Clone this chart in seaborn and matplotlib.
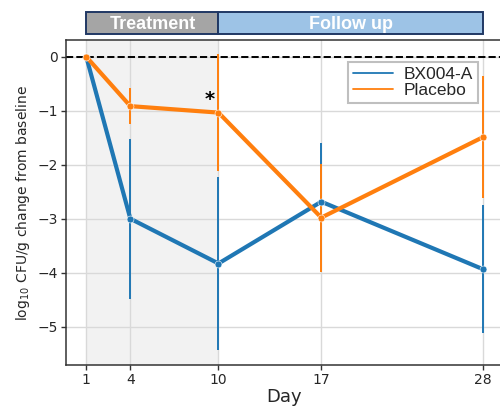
import matplotlib
matplotlib.use("Agg")
import matplotlib.pyplot as plt
import seaborn as sns
import pandas as pd
from matplotlib.patches import Rectangle
from matplotlib.lines import Line2D

days = [1, 4, 10, 17, 28]
bx_mean = [0.0, -3.00, -3.83, -2.685, -3.935]
bx_err = [0.0, 1.48, 1.61, 1.085, 1.185]
pl_mean = [0.0, -0.915, -1.035, -2.98, -1.49]
pl_err = [0.0, 0.33, 1.09, 1.00, 1.13]
series_names = ["BX004-A", "Placebo"]
colors = ["#1f77b4", "#ff7f0e"]
phase_labels = ["Treatment", "Follow up"]
phase_bounds = [(1, 10), (10, 28)]
phase_colors = ["#a5a5a5", "#9dc3e6"]

df = pd.DataFrame({
    "Day": days * 2,
    "value": bx_mean + pl_mean,
    "err": bx_err + pl_err,
    "group": [series_names[0]] * len(days) + [series_names[1]] * len(days),
})

sns.set_theme(style="whitegrid")
plt.rcParams["font.family"] = ["DejaVu Sans"]

fig = plt.figure(figsize=(5.0, 4.09), dpi=100)
ax = fig.add_axes([66 / 500, 44 / 409, 436 / 500, 325 / 409])

ax.axvspan(1, 10, color="#f2f2f2", zorder=0, lw=0)
ax.axhline(0, color="black", ls="--", lw=1.4, zorder=1.5)

for name, col in zip(series_names, colors):
    sub = df[df["group"] == name]
    ax.errorbar(sub["Day"], sub["value"], yerr=sub["err"], fmt="none",
                ecolor=col, elinewidth=1.4, capsize=0, zorder=2)

sns.lineplot(data=df, x="Day", y="value", hue="group", palette=colors,
             marker="o", markersize=5, markeredgecolor="white", markeredgewidth=0.4,
             linewidth=3, ax=ax, zorder=3, legend=False)

handles = [Line2D([0], [0], color=c, lw=1.3) for c in colors]
leg = ax.legend(handles, series_names, loc="upper right", bbox_to_anchor=(0.945, 0.932),
                borderaxespad=0,
                prop={"family": "Liberation Sans", "size": 12.5}, frameon=True,
                fancybox=False, framealpha=1, edgecolor="#bfbfbf", handlelength=2.3,
                borderpad=0.3, labelspacing=0.0, handletextpad=0.6)
leg.get_frame().set_linewidth(1.5)

ax.text(9.4, -0.8, "*", fontsize=14, fontweight="bold", ha="center", va="center", color="black")

ax.set_xlim(-0.38, 29.3)
ax.set_ylim(-5.71, 0.31)
ax.set_xticks(days)
ax.set_yticks([0, -1, -2, -3, -4, -5])
ax.set_yticklabels(["0", "\u22121", "\u22122", "\u22123", "\u22124", "\u22125"])
ax.tick_params(axis="both", labelsize=10, length=3.5, width=1, color="#333333",
               left=True, bottom=True, pad=2)
ax.grid(True, color="#d9d9d9", lw=1)
for side in ["left", "bottom", "top", "right"]:
    ax.spines[side].set_color("#333333")
    ax.spines[side].set_linewidth(1.1)

ax.set_xlabel("Day", fontsize=13, labelpad=1)
ax.set_ylabel("log$_{10}$ CFU/g change from baseline", fontsize=10, labelpad=4)

trans = ax.get_xaxis_transform()
for lab, (x0, x1), fc in zip(phase_labels, phase_bounds, phase_colors):
    r = Rectangle((x0, 1.0175), x1 - x0, 0.0675, transform=trans, facecolor=fc,
                  edgecolor="#203864", lw=1.4, clip_on=False)
    ax.add_patch(r)
    ax.text((x0 + x1) / 2, 1.047, lab, transform=trans, ha="center", va="center",
            color="white", fontsize=13, fontweight="bold", family="Liberation Sans",
            clip_on=False)

fig.savefig("out.png", dpi=100)
